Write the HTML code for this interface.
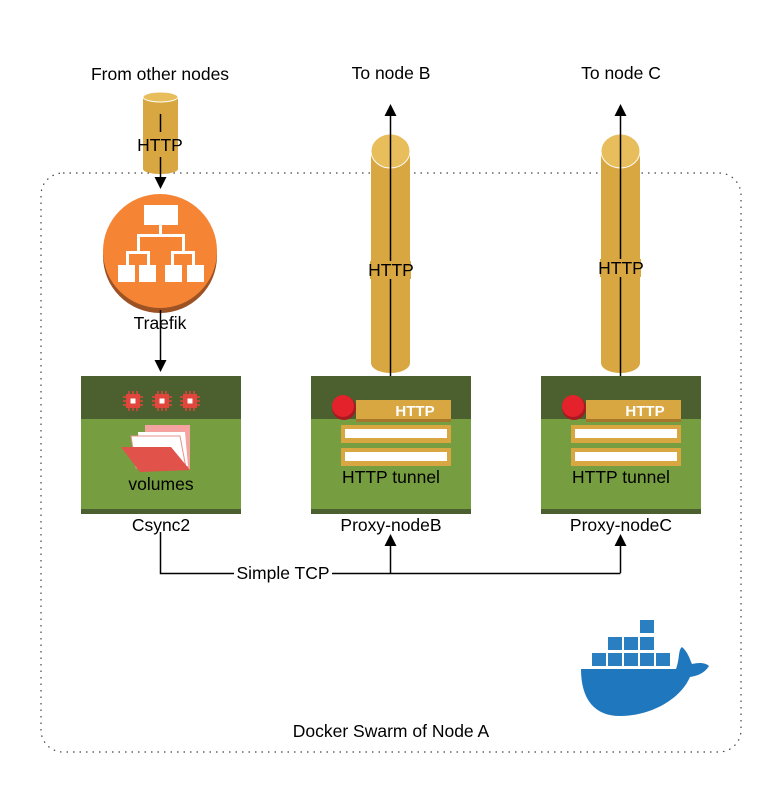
<!DOCTYPE html>
<html><head><style>body{margin:0;background:#fff}svg{display:block}text{font-family:"Liberation Sans",sans-serif;font-size:17.5px;fill:#000}</style></head><body>
<svg width="782" height="795" viewBox="0 0 782 795" xmlns="http://www.w3.org/2000/svg">
<defs><marker id="ah" markerWidth="12" markerHeight="12" refX="6" refY="6" orient="auto" markerUnits="userSpaceOnUse"><path d="M0,0 L12,6 L0,12 z" fill="#000"/></marker>
<g id="chip"><g stroke="#e0463c" stroke-width="1.5"><path d="M-10,-4H10M-10,0H10M-10,4H10M-4,-10V10M0,-10V10M4,-10V10"/></g><rect x="-7" y="-7" width="14" height="14" fill="#e0463c"/><rect x="-2.5" y="-2.5" width="5" height="5" fill="#fff"/></g></defs>
<rect x="41" y="173" width="700" height="579" rx="22" fill="none" stroke="#444" stroke-width="1.2" stroke-dasharray="1.5,5"/>
<text x="160" y="80" text-anchor="middle">From other nodes</text>
<text x="391" y="79" text-anchor="middle">To node B</text>
<text x="621" y="79" text-anchor="middle">To node C</text>
<rect x="143" y="97" width="35" height="72" fill="#d9a741"/>
<ellipse cx="160.5" cy="169" rx="17.5" ry="5" fill="#d9a741"/>
<ellipse cx="160.5" cy="97" rx="17.5" ry="5" fill="#e8bd5c" stroke="#fff" stroke-width="1"/>
<line x1="160.5" y1="114" x2="160.5" y2="132" stroke="#000" stroke-width="1.5"/>
<text x="160" y="151" text-anchor="middle">HTTP</text>
<line x1="160.5" y1="157" x2="160.5" y2="183" stroke="#000" stroke-width="1.5" marker-end="url(#ah)"/>
<circle cx="160" cy="256" r="57" fill="#9c5224"/>
<circle cx="160" cy="251" r="57" fill="#f58535"/>
<g fill="#fff"><rect x="144" y="205" width="34" height="20"/>
<rect x="159" y="225" width="3" height="10"/><rect x="137" y="234" width="48" height="3"/>
<rect x="126" y="251" width="24" height="3"/><rect x="171" y="251" width="24" height="3"/>
<rect x="137" y="236" width="3" height="16"/><rect x="182" y="236" width="3" height="16"/>
<rect x="126" y="252" width="3" height="14"/><rect x="147" y="252" width="3" height="14"/><rect x="171" y="252" width="3" height="14"/><rect x="192" y="252" width="3" height="14"/>
<rect x="118" y="265" width="17" height="17"/><rect x="139" y="265" width="17" height="17"/><rect x="165" y="265" width="17" height="17"/><rect x="187" y="265" width="17" height="17"/></g>
<text x="160" y="329" text-anchor="middle">Traefik</text>
<line x1="160.5" y1="310" x2="160.5" y2="366" stroke="#000" stroke-width="1.5" marker-end="url(#ah)"/>
<rect x="81" y="376" width="160" height="138" fill="#769d3f"/><rect x="81" y="376" width="160" height="43" fill="#4b5f2f"/><rect x="81" y="509" width="160" height="5" fill="#4b5f2f"/>
<rect x="311" y="376" width="160" height="138" fill="#769d3f"/><rect x="311" y="376" width="160" height="43" fill="#4b5f2f"/><rect x="311" y="509" width="160" height="5" fill="#4b5f2f"/>
<rect x="541" y="376" width="160" height="138" fill="#769d3f"/><rect x="541" y="376" width="160" height="43" fill="#4b5f2f"/><rect x="541" y="509" width="160" height="5" fill="#4b5f2f"/>
<use href="#chip" x="133" y="401"/><use href="#chip" x="162" y="401"/><use href="#chip" x="190" y="401"/>
<path d="M145,425 L190,425 L190,470 L145,460 z" fill="#f4a3a0"/>
<path d="M138,432 L185,432 L188,466 L140,466 z" fill="#fff"/>
<path d="M131,436 L180,436 L186,468 L136,468 z" fill="#fff" stroke="#e9928c"/>
<path d="M121,447 L171,447 L190,470 L140,472 z" fill="#e0524a"/>
<text x="161" y="490" text-anchor="middle">volumes</text>
<text x="161" y="531" text-anchor="middle">Csync2</text>
<rect x="371" y="151" width="39" height="212" fill="#d9a741"/><ellipse cx="390.5" cy="363" rx="19.5" ry="10" fill="#d9a741"/><ellipse cx="390.5" cy="151" rx="19.5" ry="17" fill="#e8bd5c" stroke="#fff"/>
<rect x="601" y="151" width="39" height="212" fill="#d9a741"/><ellipse cx="620.5" cy="363" rx="19.5" ry="10" fill="#d9a741"/><ellipse cx="620.5" cy="151" rx="19.5" ry="17" fill="#e8bd5c" stroke="#fff"/>
<line x1="390.5" y1="376" x2="390.5" y2="110" stroke="#000" stroke-width="1.5" marker-end="url(#ah)"/>
<line x1="620.5" y1="376" x2="620.5" y2="110" stroke="#000" stroke-width="1.5" marker-end="url(#ah)"/>
<rect x="370" y="261" width="41" height="18" fill="#d9a741"/><text x="391" y="276" text-anchor="middle">HTTP</text>
<rect x="600" y="259" width="41" height="18" fill="#d9a741"/><text x="621" y="274" text-anchor="middle">HTTP</text>
<g>
<rect x="356" y="400" width="95" height="22" fill="#d9a741"/><rect x="356" y="419" width="95" height="3" fill="#a6762a"/>
<text x="415" y="416" text-anchor="middle" style="font-weight:bold;fill:#fff;font-size:15px">HTTP</text>
<circle cx="344" cy="408" r="12" fill="#a61b20"/><circle cx="343" cy="406" r="11" fill="#e3222c"/>
<rect x="341" y="425" width="110" height="18" fill="#d9a741"/><rect x="345" y="429" width="102" height="9" fill="#fff"/>
<rect x="341" y="448" width="110" height="18" fill="#d9a741"/><rect x="345" y="452" width="102" height="9" fill="#fff"/>
<text x="391" y="483" text-anchor="middle">HTTP tunnel</text>
</g>
<g transform="translate(230,0)">
<rect x="356" y="400" width="95" height="22" fill="#d9a741"/><rect x="356" y="419" width="95" height="3" fill="#a6762a"/>
<text x="415" y="416" text-anchor="middle" style="font-weight:bold;fill:#fff;font-size:15px">HTTP</text>
<circle cx="344" cy="408" r="12" fill="#a61b20"/><circle cx="343" cy="406" r="11" fill="#e3222c"/>
<rect x="341" y="425" width="110" height="18" fill="#d9a741"/><rect x="345" y="429" width="102" height="9" fill="#fff"/>
<rect x="341" y="448" width="110" height="18" fill="#d9a741"/><rect x="345" y="452" width="102" height="9" fill="#fff"/>
<text x="391" y="483" text-anchor="middle">HTTP tunnel</text>
</g>
<text x="391" y="531" text-anchor="middle">Proxy-nodeB</text>
<text x="621" y="531" text-anchor="middle">Proxy-nodeC</text>
<path d="M160.5,532 V573.5 H620.5" fill="none" stroke="#000" stroke-width="1.5"/>
<line x1="390.5" y1="573" x2="390.5" y2="540" stroke="#000" stroke-width="1.5" marker-end="url(#ah)"/>
<line x1="620.5" y1="573" x2="620.5" y2="540" stroke="#000" stroke-width="1.5" marker-end="url(#ah)"/>
<rect x="234" y="564" width="98" height="18" fill="#fff"/><text x="283" y="579" text-anchor="middle">Simple TCP</text>
<g fill="#2a7fc1">
<rect x="640" y="620" width="14" height="13"/>
<rect x="608" y="637" width="14" height="13"/><rect x="624" y="637" width="14" height="13"/><rect x="640" y="637" width="14" height="13"/>
<rect x="592" y="653" width="14" height="13"/><rect x="608" y="653" width="14" height="13"/><rect x="624" y="653" width="14" height="13"/><rect x="640" y="653" width="14" height="13"/><rect x="656" y="653" width="14" height="13"/>
<path d="M581,669 L676,669 C680,658 678,650 682,647 C688,652 690,660 692,664 C700,662 706,663 709,666 C704,674 696,676 690,677 C680,700 650,716 620,716 C595,716 581,700 581,669 z" fill="#1f78bd"/>
</g>
<text x="391" y="737" text-anchor="middle">Docker Swarm of Node A</text>
</svg>
</body></html>
